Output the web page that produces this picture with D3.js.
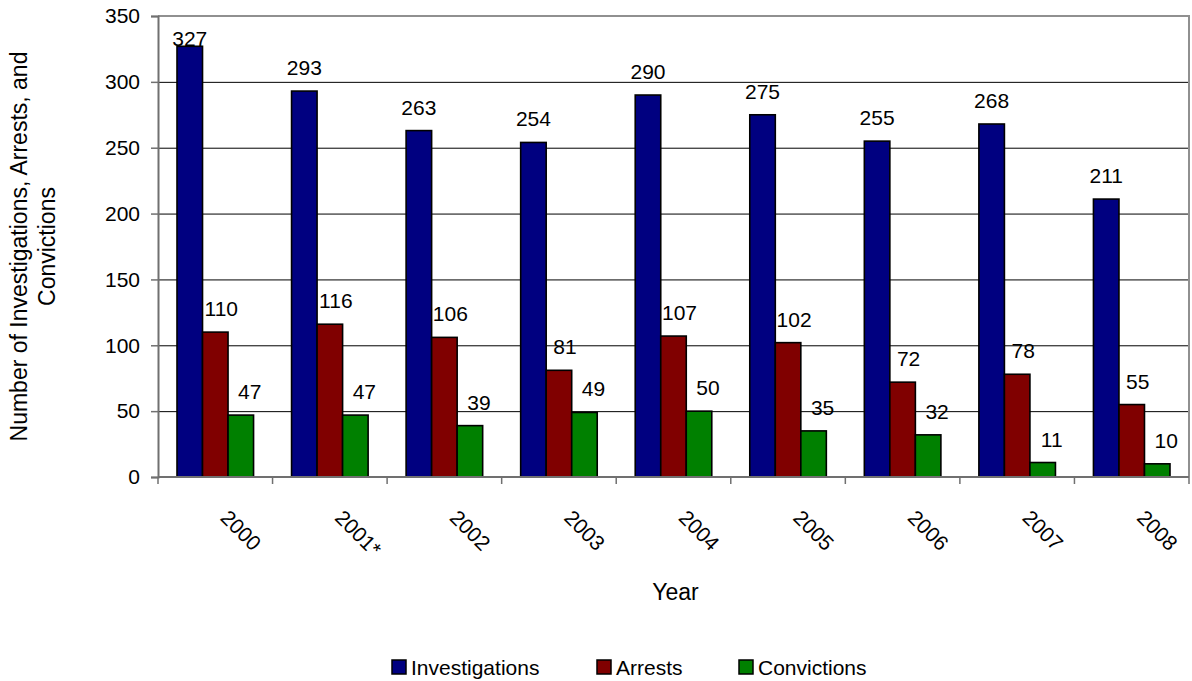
<!DOCTYPE html>
<html>
<head>
<meta charset="utf-8">
<script src="https://cdn.jsdelivr.net/npm/d3@7"></script>
<style>
  html, body { margin: 0; padding: 0; background: #fff; }
  svg { display: block; font-family: "Liberation Sans", Arial, sans-serif; }
</style>
</head>
<body>
<svg id="chart" width="1192" height="681"></svg>
<script>
const years = ["2000", "2001*", "2002", "2003", "2004", "2005", "2006", "2007", "2008"];
const seriesNames = ["Investigations", "Arrests", "Convictions"];
const investigations = [327, 293, 263, 254, 290, 275, 255, 268, 211];
const arrests = [110, 116, 106, 81, 107, 102, 72, 78, 55];
const convictions = [47, 47, 39, 49, 50, 35, 32, 11, 10];
const yTicks = [0, 50, 100, 150, 200, 250, 300, 350];
const colors = ["#000080", "#800000", "#008000"];
const labelDx = [0, 6, 9];

const seriesValues = [investigations, arrests, convictions];
const svg = d3.select("#chart");
const L = 158, R = 1189, T = 16, B = 477;
const fs = 21, fsTitle = 23;

const x0 = d3.scaleBand().domain(years).range([L, R]).padding(0);
const x1 = d3.scaleBand().domain(seriesNames).range([19, x0.bandwidth() - 19]).padding(0);
const y = d3.scaleLinear().domain([0, 350]).range([B, T]);

// gridlines
svg.append("g")
  .attr("transform", `translate(${L},0)`)
  .call(d3.axisLeft(y).tickValues(yTicks.filter(v => v > 0 && v < 350)).tickSize(-(R - L)).tickFormat(""))
  .call(g => g.select(".domain").remove())
  .call(g => g.selectAll("line").attr("stroke", "#000").attr("stroke-width", 1));

// plot border (top/right)
svg.append("path")
  .attr("d", `M${L},${T}H${R}V${B}`)
  .attr("fill", "none").attr("stroke", "#909090").attr("stroke-width", 2);

// bars
const groups = svg.append("g").selectAll("g")
  .data(years).join("g")
  .attr("transform", d => `translate(${x0(d)},0)`);

groups.selectAll("rect")
  .data((d, i) => seriesNames.map((s, j) => ({ s, j, v: seriesValues[j][i] })))
  .join("rect")
  .attr("x", d => x1(d.s))
  .attr("y", d => y(d.v))
  .attr("width", x1.bandwidth())
  .attr("height", d => B - y(d.v))
  .attr("fill", d => colors[d.j])
  .attr("stroke", "#000")
  .attr("stroke-width", 1.6);

// y axis
svg.append("g")
  .attr("transform", `translate(${L},0)`)
  .call(d3.axisLeft(y).tickValues(yTicks).tickSize(7).tickPadding(11))
  .call(g => g.select(".domain").attr("stroke", "#707070").attr("stroke-width", 2))
  .call(g => g.selectAll(".tick line").attr("stroke", "#707070").attr("stroke-width", 1.5))
  .call(g => g.selectAll("text").attr("font-size", fs).attr("fill", "#000")
    .attr("font-family", "Liberation Sans, Arial, sans-serif"));

// x axis line and ticks at category boundaries
svg.append("line")
  .attr("x1", L).attr("x2", R).attr("y1", B).attr("y2", B)
  .attr("stroke", "#707070").attr("stroke-width", 2);
const bounds = years.map(d => x0(d)).concat([x0(years[years.length - 1]) + x0.bandwidth()]);
svg.append("g").selectAll("line").data(bounds).join("line")
  .attr("x1", d => d).attr("x2", d => d)
  .attr("y1", B).attr("y2", B + 7)
  .attr("stroke", "#707070").attr("stroke-width", 1.5);

// x tick labels rotated
svg.append("g").selectAll("text").data(years).join("text")
  .attr("transform", d => `translate(${x0(d) + x0.bandwidth() / 2 + 4},${B + 42}) rotate(45)`)
  .attr("font-size", fs).attr("text-anchor", "start")
  .text(d => d);

// data labels
groups.selectAll("text.val")
  .data((d, i) => seriesNames.map((s, j) => ({ s, j, v: seriesValues[j][i] })))
  .join("text")
  .attr("class", "val")
  .attr("x", d => x1(d.s) + x1.bandwidth() / 2 + labelDx[d.j])
  .attr("y", d => Math.max(y(d.v) - 16, T + 30))
  .attr("text-anchor", "middle")
  .attr("font-size", fs)
  .text(d => d.v);

// y title
const yt = svg.append("text")
  .attr("transform", `translate(27,${(T + B) / 2}) rotate(-90)`)
  .attr("text-anchor", "middle").attr("font-size", fsTitle);
yt.append("tspan").attr("x", 0).attr("y", 0).text("Number of Investigations, Arrests, and");
yt.append("tspan").attr("x", 0).attr("y", 28).text("Convictions");

// x title
svg.append("text")
  .attr("x", (L + R) / 2 + 2).attr("y", 600)
  .attr("text-anchor", "middle").attr("font-size", fsTitle)
  .text("Year");

// legend
const legendX = [392, 597, 739];
const lg = svg.append("g").selectAll("g").data(seriesNames).join("g")
  .attr("transform", (d, i) => `translate(${legendX[i]},660)`);
lg.append("rect").attr("width", 14).attr("height", 14)
  .attr("fill", (d, i) => colors[i]).attr("stroke", "#000").attr("stroke-width", 1.5);
lg.append("text").attr("x", 19).attr("y", 15).attr("font-size", fs).text(d => d);
</script>
</body>
</html>
